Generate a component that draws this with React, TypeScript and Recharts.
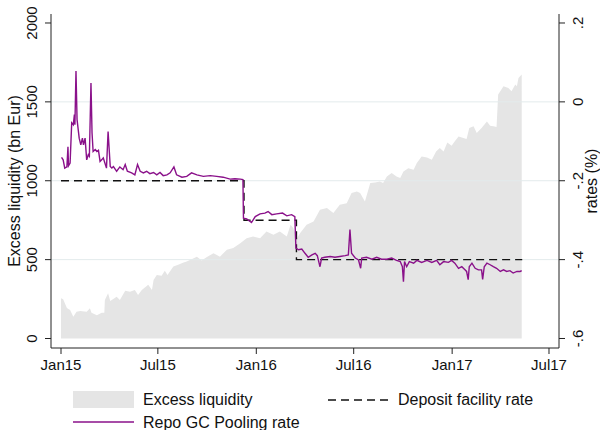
import React from 'react';
import { ComposedChart, Area, Line, XAxis, YAxis, ReferenceLine } from 'recharts';

// x values are days since 1 Jan 2015
const xTickDays = [0, 181, 365, 547, 731, 912];
const xTickLabels = ['Jan15', 'Jul15', 'Jan16', 'Jul16', 'Jan17', 'Jul17'];
const liqTicks = [0, 500, 1000, 1500, 2000];
const rateTicks = [-0.6, -0.4, -0.2, 0, 0.2];
const rateTickLabels = ['-.6', '-.4', '-.2', '0', '.2'];
const gridValues = [500, 1000, 1500];

// Excess liquidity (bn EUR): [day, value]
const excessLiquidity: [number, number][] = [
  [0, 255], [4, 249], [11, 194], [17, 181], [23, 138], [29, 170], [36, 175], [48, 170],
  [54, 192], [57, 164], [67, 147], [76, 164], [81, 163], [82, 244], [88, 287], [92, 238],
  [104, 265], [110, 244], [120, 303], [129, 297], [138, 308], [144, 276], [151, 308],
  [163, 340], [170, 308], [173, 371], [179, 403], [188, 397], [194, 430], [199, 403],
  [210, 456], [219, 467], [229, 481], [235, 488], [241, 498], [254, 519], [263, 495],
  [272, 515], [285, 541], [297, 519], [310, 562], [322, 573], [335, 604], [347, 636],
  [359, 646], [372, 636], [384, 678], [397, 657], [409, 678], [422, 646], [429, 721],
  [434, 700], [441, 636], [447, 668], [459, 721], [472, 742], [484, 816], [497, 827],
  [509, 795], [521, 848], [534, 858], [543, 922], [553, 932], [559, 922], [568, 869],
  [578, 985], [587, 989], [596, 996], [602, 985], [609, 1027], [618, 1049], [627, 1027],
  [634, 1017], [640, 1059], [649, 1080], [659, 1070], [665, 1112], [674, 1154], [684, 1148],
  [693, 1133], [701, 1186], [708, 1207], [715, 1186], [722, 1243], [730, 1222], [736, 1250],
  [743, 1281], [752, 1271], [758, 1265], [763, 1334], [771, 1345], [777, 1303], [786, 1334],
  [796, 1376], [802, 1349], [808, 1345], [814, 1341], [817, 1546], [827, 1599], [836, 1588],
  [842, 1567], [849, 1610], [852, 1599], [855, 1652], [861, 1673],
];

// Deposit facility rate (%): [day, rate]
const depositRate: [number, number][] = [
  [0, -0.2], [342, -0.3], [440, -0.4], [862, -0.4],
];

// Repo GC Pooling rate (%): [day, rate]
const repoRate: [number, number][] = [
  [1, -0.141], [4, -0.147], [7, -0.168], [11, -0.165], [13, -0.114], [14, -0.162], [17, -0.155],
  [20, -0.053], [23, -0.058], [25, -0.032], [26, -0.058], [28, 0.078], [30, -0.045], [34, -0.092],
  [37, -0.109], [40, -0.092], [42, -0.109], [45, -0.092], [48, -0.147], [51, -0.134], [53, -0.138],
  [56, 0.048], [58, -0.079], [60, -0.126], [64, -0.121], [67, -0.126], [70, -0.123], [73, -0.151],
  [76, -0.147], [79, -0.142], [82, -0.155], [85, -0.168], [88, -0.075], [92, -0.164], [95, -0.168],
  [98, -0.164], [104, -0.176], [110, -0.165], [116, -0.172], [120, -0.159], [124, -0.176],
  [132, -0.18], [138, -0.185], [143, -0.159], [148, -0.176], [154, -0.18], [160, -0.176],
  [166, -0.182], [173, -0.179], [179, -0.185], [185, -0.179], [191, -0.187], [198, -0.185],
  [204, -0.18], [211, -0.165], [216, -0.185], [226, -0.191], [235, -0.189], [244, -0.18],
  [254, -0.185], [266, -0.189], [279, -0.187], [291, -0.189], [303, -0.191], [316, -0.196],
  [325, -0.195], [335, -0.196], [340, -0.197], [341, -0.295], [347, -0.297], [356, -0.306],
  [363, -0.291], [372, -0.284], [381, -0.282], [387, -0.278], [394, -0.286], [403, -0.284],
  [414, -0.282], [422, -0.289], [431, -0.286], [437, -0.291], [439, -0.371], [444, -0.375],
  [450, -0.373], [456, -0.384], [462, -0.394], [469, -0.388], [475, -0.384], [479, -0.39],
  [484, -0.418], [487, -0.396], [493, -0.394], [503, -0.392], [512, -0.394], [521, -0.392],
  [531, -0.39], [537, -0.388], [540, -0.324], [543, -0.384], [550, -0.396], [556, -0.401],
  [560, -0.422], [562, -0.396], [571, -0.394], [581, -0.399], [590, -0.394], [599, -0.399],
  [609, -0.399], [618, -0.396], [627, -0.402], [634, -0.405], [638, -0.418], [640, -0.456],
  [642, -0.405], [646, -0.418], [651, -0.405], [659, -0.409], [665, -0.402], [674, -0.407],
  [684, -0.402], [693, -0.407], [702, -0.402], [708, -0.413], [715, -0.405], [724, -0.407],
  [730, -0.402], [736, -0.409], [743, -0.422], [749, -0.418], [755, -0.426], [758, -0.43],
  [761, -0.451], [763, -0.418], [768, -0.409], [774, -0.422], [780, -0.426], [786, -0.426],
  [788, -0.45], [791, -0.418], [796, -0.409], [802, -0.413], [808, -0.418], [814, -0.422],
  [821, -0.43], [827, -0.426], [833, -0.43], [839, -0.428], [845, -0.434], [852, -0.43],
  [858, -0.43], [861, -0.428],
];

const liqData = excessLiquidity.map(([d, v]) => ({ d, v }));
const depData = depositRate.map(([d, r]) => ({ d, r }));
const repoData = repoRate.map(([d, r]) => ({ d, r }));

const LIQ_DOMAIN: [number, number] = [-60.2, 2057];
const RATE_DOMAIN: [number, number] = [-0.6241, 0.2228];

const FONT = '"Liberation Sans", Arial, Helvetica, sans-serif';
const AREA_FILL = '#e5e5e5';
const PURPLE = '#8a118a';
const AXIS = '#222';
const GRID = '#e3ebec';

const LEFT_LABEL_BASE = 37.5;
const RIGHT_LABEL_BASE = 583.5;

const LeftTick = (props: any) => {
  const { y, payload } = props;
  const bx = LEFT_LABEL_BASE;
  return (
    <text x={bx} y={y} transform={`rotate(-90 ${bx} ${y})`} textAnchor="middle" fontSize={15} fill="#111" fontFamily={FONT}>
      {payload.value}
    </text>
  );
};

const RightTick = (props: any) => {
  const { y, payload } = props;
  const bx = RIGHT_LABEL_BASE;
  const idx = rateTicks.findIndex((t) => Math.abs(t - payload.value) < 1e-6);
  return (
    <text x={bx} y={y} transform={`rotate(-90 ${bx} ${y})`} textAnchor="middle" fontSize={15} fill="#111" fontFamily={FONT}>
      {idx >= 0 ? rateTickLabels[idx] : payload.value}
    </text>
  );
};

const AxisTitle = (props: any) => {
  const { viewBox, text, bx } = props;
  const cy = viewBox && typeof viewBox.y === 'number' ? viewBox.y + viewBox.height / 2 : 181;
  return (
    <text x={bx} y={cy} transform={`rotate(-90 ${bx} ${cy})`} textAnchor="middle" fontSize={16} fill="#111" fontFamily={FONT}>
      {text}
    </text>
  );
};

const xFmt = (v: number) => {
  const i = xTickDays.indexOf(v);
  return i >= 0 ? xTickLabels[i] : '';
};

const legendText: React.CSSProperties = {
  position: 'absolute',
  fontFamily: FONT,
  fontSize: 16,
  lineHeight: '18px',
  color: '#111',
  whiteSpace: 'nowrap',
};

export default function App() {
  return (
    <div style={{ position: 'absolute', left: 0, top: 0, width: 600, height: 430, background: '#fff', overflow: 'hidden' }}>
      <ComposedChart
        width={600}
        height={430}
        margin={{ top: 14, right: 0, bottom: 52, left: 0 }}
        style={{ fontFamily: FONT }}
      >
        <XAxis
          type="number"
          dataKey="d"
          domain={[-18.7, 930.7]}
          ticks={xTickDays}
          tickFormatter={xFmt}
          interval={0}
          allowDataOverflow
          height={30}
          tickSize={6}
          tickMargin={5}
          stroke={AXIS}
          tick={{ fontSize: 15, fill: '#111', fontFamily: FONT }}
        />
        <YAxis
          yAxisId="l"
          orientation="left"
          type="number"
          domain={LIQ_DOMAIN}
          ticks={liqTicks}
          interval={0}
          allowDataOverflow
          width={51}
          tickSize={6}
          tickMargin={2}
          stroke={AXIS}
          tick={<LeftTick />}
          label={<AxisTitle text="Excess liquidity (bn Eur)" bx={19.5} />}
        />
        <YAxis
          yAxisId="r"
          orientation="right"
          type="number"
          domain={RATE_DOMAIN}
          ticks={rateTicks}
          interval={0}
          allowDataOverflow
          width={41}
          tickSize={6}
          tickMargin={2}
          stroke={AXIS}
          tick={<RightTick />}
          label={<AxisTitle text="rates (%)" bx={597} />}
        />
        {gridValues.map((g) => (
          <ReferenceLine key={g} yAxisId="l" y={g} stroke={GRID} strokeWidth={1} ifOverflow="visible" />
        ))}
        <Area
          yAxisId="l"
          data={liqData}
          dataKey="v"
          type="linear"
          fill={AREA_FILL}
          fillOpacity={1}
          stroke="none"
          baseValue={0}
          isAnimationActive={false}
          dot={false}
          activeDot={false}
        />
        <Line
          yAxisId="r"
          data={depData}
          dataKey="r"
          type="stepAfter"
          stroke="#111"
          strokeWidth={1.4}
          strokeDasharray="8 5"
          dot={false}
          activeDot={false}
          isAnimationActive={false}
        />
        <Line
          yAxisId="r"
          data={repoData}
          dataKey="r"
          type="linear"
          stroke={PURPLE}
          strokeWidth={1.4}
          dot={false}
          activeDot={false}
          isAnimationActive={false}
        />
      </ComposedChart>

      {/* Legend */}
      <div style={{ position: 'absolute', left: 73, top: 391, width: 61, height: 17, background: AREA_FILL }} />
      <div style={{ ...legendText, left: 143, top: 391 }}>Excess liquidity</div>
      <svg style={{ position: 'absolute', left: 328, top: 398 }} width={61} height={4}>
        <line x1={0} y1={2} x2={60} y2={2} stroke="#111" strokeWidth={1.4} strokeDasharray="8 5" />
      </svg>
      <div style={{ ...legendText, left: 398, top: 391 }}>Deposit facility rate</div>
      <svg style={{ position: 'absolute', left: 73, top: 420 }} width={62} height={4}>
        <line x1={0} y1={2} x2={61} y2={2} stroke={PURPLE} strokeWidth={1.6} />
      </svg>
      <div style={{ ...legendText, left: 143, top: 414 }}>Repo GC Pooling rate</div>
    </div>
  );
}
